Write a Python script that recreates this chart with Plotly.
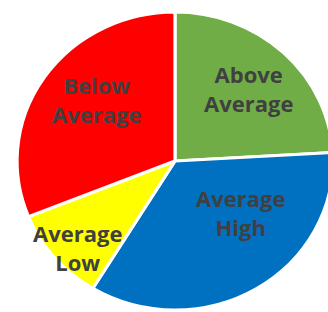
import plotly.graph_objects as go

labels = ["Above Average", "Average High", "Average Low", "Below Average"]
values = [24.1, 34.6, 10.2, 31.1]
colors = ["#70AD47", "#0070C0", "#FFFF00", "#FF0000"]
label_px = [(248, 88), (240, 212), (77, 247), (96, 100)]

W, H = 328, 312
cx, cy, r = 175, 161, 149
SX = 1.06  # reference pie is slightly stretched horizontally

fig = go.Figure(go.Pie(
    labels=labels,
    values=values,
    sort=False,
    direction="clockwise",
    rotation=0,
    marker=dict(colors=colors, line=dict(color="white", width=3)),
    textinfo="none",
    hoverinfo="none",
    showlegend=False,
    domain=dict(x=[(cx - r) / W, (cx + r) / W], y=[(H - cy - r) / H, (H - cy + r) / H]),
))
for lab, (px, py) in zip(labels, label_px):
    fig.add_annotation(
        text=lab.replace(" ", "<br>"),
        x=px / W, y=1 - py / H,
        xref="paper", yref="paper",
        xanchor="center", yanchor="middle",
        showarrow=False,
        font=dict(family="Open Sans", size=22, color="#404040", weight="bold"),
    )
fig.update_layout(
    width=W, height=H,
    margin=dict(l=0, r=0, t=0, b=0),
    paper_bgcolor="white",
    plot_bgcolor="white",
)
post = (
    "document.body.style.margin='0';"
    "var gd=document.getElementById('{plot_id}');"
    "var l=gd.querySelector('.pielayer');"
    "if(l){l.setAttribute('transform','translate(%d,%d) scale(%g,1) translate(%d,%d)');}"
    % (cx, cy, SX, -cx, -cy)
)
fig.write_html("out.html", post_script=post, config={"displayModeBar": False})
